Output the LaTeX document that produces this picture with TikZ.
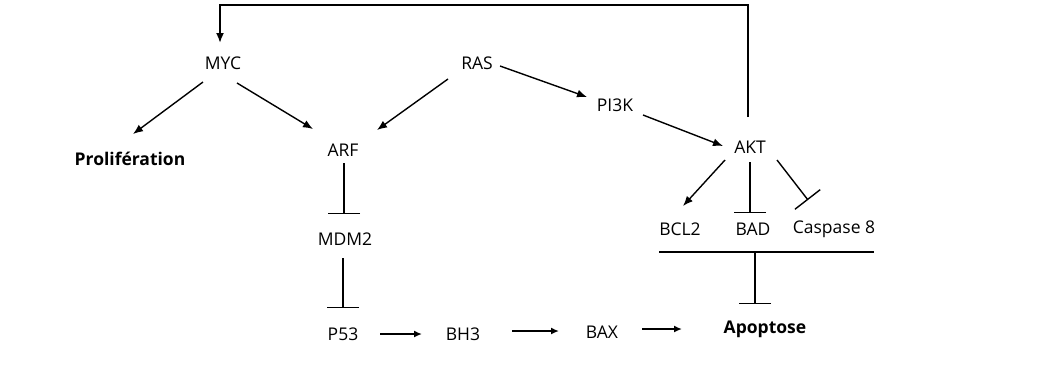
\documentclass[tikz,border=0pt]{standalone}
\usepackage{fontspec}
\setmainfont{Open Sans}
\usetikzlibrary{arrows.meta,calc}
\begin{document}
\begin{tikzpicture}[x=1pt,y=-1pt,
  lbl/.style={inner sep=0pt,font=\fontsize{17.5}{20}\selectfont},
  blbl/.style={inner sep=0pt,font=\fontsize{17.5}{20}\selectfont\bfseries},
  act/.style={line width=1.4pt,-{Latex[length=10pt,width=8pt]}},
  hact/.style={line width=2pt,-{Latex[length=8pt,width=7pt]}},
  inh/.style={line width=1.4pt,-{Bar[width=32pt,line width=1.4pt]}},
  fb/.style={line width=1.8pt,-{Latex[length=10pt,width=8pt]}}]
\useasboundingbox (0,0) rectangle (1057,376);
\fill[white] (0,0) rectangle (1057,376);
\node[lbl] (myc) at (223,63) {MYC};
\node[lbl] (ras) at (477,63) {RAS};
\node[lbl] (pi3k) at (615,105) {PI3K};
\node[lbl] (akt) at (750,147) {AKT};
\node[lbl] (arf) at (343,150) {ARF};
\node[blbl] (prol) at (130,159) {Prolifération};
\node[lbl] (mdm2) at (345,239) {MDM2};
\node[lbl] (p53) at (343,334) {P53};
\node[lbl] (bh3) at (463,334) {BH3};
\node[lbl] (bax) at (602,332) {BAX};
\node[blbl] (apop) at (765,329) {Apoptose};
\node[lbl] (bcl2) at (680,229) {BCL2};
\node[lbl] (bad) at (753,229) {BAD};
\node[lbl] (casp) at (834,229) {Caspase 8};
\coordinate (barL) at (659,252);
\coordinate (barR) at (874,252);
\coordinate (barM) at (755,252);
\coordinate (topL) at (220,5);
\draw[act] ($(myc)+(-20,19)$) -- ($(prol)+(3,-25)$);
\draw[act] ($(myc)+(14,20)$) -- ($(arf)+(-30,-21)$);
\draw[act] ($(ras)+(-29,16)$) -- ($(arf)+(34,-20)$);
\draw[act] ($(ras)+(23,3)$) -- ($(pi3k)+(-28,-8)$);
\draw[act] ($(pi3k)+(28,10)$) -- ($(akt)+(-27,-1)$);
\draw[act] ($(akt)+(-25,13)$) -- ($(bcl2)+(3,-23)$);
\draw[inh] ($(akt)+(0,15)$) -- ($(bad)+(-3,-16)$);
\draw[inh] ($(akt)+(27,13)$) -- ($(casp)+(-26,-29)$);
\draw[fb] ($(akt)+(-2,-30)$) |- (topL) -- ($(myc)+(-3,-20)$);
\draw[inh] ($(arf)+(1,13)$) -- ($(mdm2)+(-1,-25)$);
\draw[inh] ($(mdm2)+(-2,19)$) -- ($(p53)+(0,-26)$);
\draw[hact] ($(p53)+(37,0)$) -- ($(bh3)+(-41,0)$);
\draw[hact] ($(bh3)+(49,-3)$) -- ($(bax)+(-43,-1)$);
\draw[hact] ($(bax)+(40,-3)$) -- ($(apop)+(-83,0)$);
\draw[line width=2pt] (barL) -- (barR);
\draw[inh] (barM) -- ($(apop)+(-10,-25)$);
\end{tikzpicture}
\end{document}
